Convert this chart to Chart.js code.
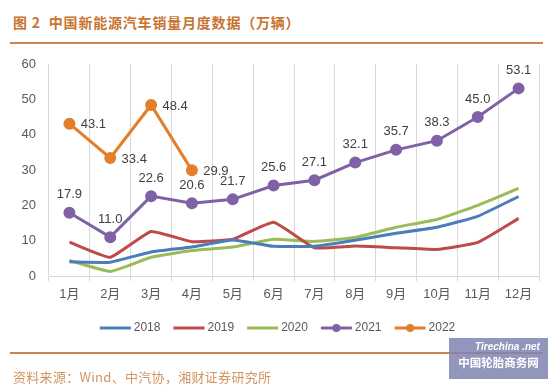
<!DOCTYPE html>
<html>
<head>
<meta charset="utf-8">
<script src="https://cdn.jsdelivr.net/npm/chart.js@4.4.0/dist/chart.umd.min.js"></script>
<style>
    html, body { margin: 0; padding: 0; background: #fff; }
    #wrap { position: relative; width: 554px; height: 385px; overflow: hidden; font-family: "Noto Sans CJK SC", sans-serif; }
    #chart { position: absolute; left: 0; top: 0; }
    .title { position: absolute; left: 13px; top: 12px; font-size: 14px; font-weight: bold; color: #C87432; letter-spacing: 0.8px; }
    .rule { position: absolute; left: 10px; width: 533px; height: 2px; background: #CC8550; }
    .source { position: absolute; left: 13px; top: 367px; font-size: 13px; color: #D39560; letter-spacing: 0.3px; }
    .mark { position: absolute; left: 449px; top: 338px; width: 99px; height: 41px; background: rgba(128,132,176,0.85); color: #fff; text-align: center; }
    .mark .en { font-family: "Liberation Sans", sans-serif; font-style: italic; font-weight: bold; font-size: 10px; margin-top: 3px; padding-left: 18px; }
    .mark .cn { font-size: 11.5px; font-weight: bold; margin-top: 2px; }
</style>
</head>
<body>
<div id="wrap">
    <div class="title">图 2&nbsp; 中国新能源汽车销量月度数据（万辆）</div>
    <div class="rule" style="top:42px"></div>
    <canvas id="chart" width="554" height="385"></canvas>
    <div class="rule" style="top:352px"></div>
    <div class="source">资料来源：Wind、中汽协，湘财证券研究所</div>
    <div class="mark"><div class="en">Tirechina .net</div><div class="cn">中国轮胎商务网</div></div>
</div>
<script>
    "use strict";

    var months = ["1月", "2月", "3月", "4月", "5月", "6月", "7月", "8月", "9月", "10月", "11月", "12月"];
    var sales2018 = [4.0, 3.9, 6.8, 8.2, 10.2, 8.4, 8.4, 10.1, 12.1, 13.8, 16.9, 22.5];
    var sales2019 = [9.6, 5.3, 12.6, 9.7, 10.4, 15.2, 8.0, 8.5, 8.0, 7.5, 9.5, 16.3];
    var sales2020 = [4.4, 1.3, 5.3, 7.2, 8.2, 10.4, 9.8, 10.9, 13.8, 16.0, 20.0, 24.8];
    var sales2021 = [17.9, 11.0, 22.6, 20.6, 21.7, 25.6, 27.1, 32.1, 35.7, 38.3, 45.0, 53.1];
    var sales2022 = [43.1, 33.4, 48.4, 29.9];
    var yTicks = [0, 10, 20, 30, 40, 50, 60];

    var colors = ["#4A7EBB", "#BE4B48", "#9BBB59", "#7F62A6", "#E27F2C"];
    var textColor = "#595959";
    var fontStack = '"Liberation Sans", "Noto Sans CJK SC", sans-serif';

    // small line (+dot) images for the legend, drawn a bit to the right so the text sits close
    function legendIcon(color, dot) {
        var c = document.createElement("canvas");
        c.width = 36;
        c.height = 10;
        var g = c.getContext("2d");
        g.strokeStyle = color;
        g.lineWidth = 3;
        g.beginPath();
        g.moveTo(3, 5);
        g.lineTo(34, 5);
        g.stroke();
        if (dot) {
            g.fillStyle = color;
            g.beginPath();
            g.arc(18.5, 5, 4, 0, Math.PI * 2);
            g.fill();
        }
        return c;
    }

    // value labels for 2021 (above) and 2022 (right)
    var valueLabels = {
        id: "valueLabels",
        afterLayout: function (chart) {
            // legend sits a little right of the page centre
            chart.legend.left = 18;
        },
        afterDatasetsDraw: function (chart) {
            var ctx = chart.ctx;
            ctx.save();
            ctx.font = "13px " + fontStack;
            ctx.fillStyle = "#404040";
            ctx.textAlign = "center";
            ctx.textBaseline = "middle";
            chart.data.datasets.forEach(function (ds, i) {
                if (!ds.labelPos) return;
                var meta = chart.getDatasetMeta(i);
                meta.data.forEach(function (pt, j) {
                    var dx = ds.labelPos === "right" ? 24 : 0;
                    var dy = ds.labelPos === "right" ? 1 : -18;
                    ctx.fillText(ds.data[j].toFixed(1), pt.x + dx, pt.y + dy);
                });
            });
            ctx.restore();
        }
    };

    function lineSet(label, data, color, extra) {
        return Object.assign({
            label: label,
            data: data,
            borderColor: color,
            backgroundColor: color,
            fill: false,
            borderWidth: 3,
            pointRadius: 0,
            pointStyle: "circle",
            tension: 0.12
        }, extra || {});
    }

    var ctx = document.getElementById("chart").getContext("2d");
    var chart = new Chart(ctx, {
        type: "line",
        data: {
            labels: months,
            datasets: [
                lineSet("2018", sales2018, colors[0]),
                lineSet("2019", sales2019, colors[1]),
                lineSet("2020", sales2020, colors[2]),
                lineSet("2021", sales2021, colors[3], {pointRadius: 4.5, tension: 0, labelPos: "above"}),
                lineSet("2022", sales2022, colors[4], {pointRadius: 4.5, tension: 0, labelPos: "right"})
            ]
        },
        options: {
            responsive: false,
            animation: false,
            devicePixelRatio: 1,
            layout: {padding: {top: 64, left: 0, right: 15, bottom: 41}},
            plugins: {
                legend: {
                    position: "bottom",
                    labels: {
                        usePointStyle: true,
                        pointStyleWidth: 26,
                        padding: 15,
                        color: textColor,
                        font: {size: 12, family: fontStack},
                        generateLabels: function (chart) {
                            return chart.data.datasets.map(function (ds, i) {
                                return {
                                    text: ds.label,
                                    fontColor: textColor,
                                    pointStyle: legendIcon(ds.borderColor, ds.pointRadius > 0),
                                    datasetIndex: i,
                                    lineWidth: 0
                                };
                            });
                        }
                    }
                },
                tooltip: {enabled: false}
            },
            scales: {
                x: {
                    offset: true,
                    grid: {display: true, offset: true, color: "#D9D9D9", tickLength: 5, tickColor: "#D9D9D9"},
                    border: {display: true, color: "#D9D9D9"},
                    ticks: {color: textColor, padding: 6, maxRotation: 0, font: {size: 13, family: fontStack}},
                    afterFit: function (s) { s.height = 31; }
                },
                y: {
                    min: 0,
                    max: 60,
                    afterBuildTicks: function (s) { s.ticks = yTicks.map(function (v) { return {value: v}; }); },
                    grid: {display: false, drawTicks: false},
                    border: {display: false},
                    ticks: {color: textColor, padding: 13, font: {size: 13, family: fontStack}},
                    afterFit: function (s) { s.width = 49; }
                }
            }
        },
        plugins: [valueLabels]
    });
</script>
</body>
</html>
